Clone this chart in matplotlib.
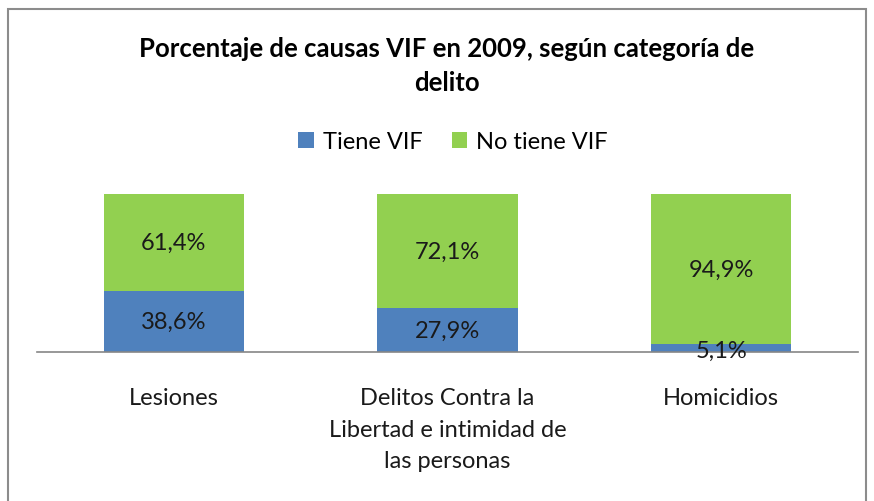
import matplotlib
matplotlib.use("Agg")
import matplotlib.pyplot as plt
from matplotlib.patches import Rectangle

categorias = ["Lesiones", "Delitos Contra la\nLibertad e intimidad de\nlas personas", "Homicidios"]
tiene_vif = [38.6, 27.9, 5.1]
no_tiene_vif = [61.4, 72.1, 94.9]
series = ["Tiene VIF", "No tiene VIF"]
COLORS = ["#4F81BD", "#92D050"]

plt.rcParams["font.family"] = ["Lato", "DejaVu Sans"]

W, H = 874, 502
fig = plt.figure(figsize=(W / 100, H / 100), dpi=100)
ax = fig.add_axes([37 / W, 1 - 353 / H, (858 - 37) / W, (353 - 195) / H])

x = list(range(len(categorias)))
bw = 0.512
b1 = ax.bar(x, tiene_vif, bw, color=COLORS[0], label=series[0])
b2 = ax.bar(x, no_tiene_vif, bw, bottom=tiene_vif, color=COLORS[1], label=series[1])

for xi, a, b in zip(x, tiene_vif, no_tiene_vif):
    ya = a / 2 if a > 10 else 1.0
    ax.text(xi, ya, f"{a:.1f}%".replace(".", ","), ha="center", va="center", fontsize=17, color="#1a1a1a")
    ax.text(xi, a + b / 2, f"{b:.1f}%".replace(".", ","), ha="center", va="center", fontsize=17, color="#1a1a1a")

ax.set_xlim(-0.5, 2.5)
ax.set_ylim(0, 100)
for s in ["top", "right", "left"]:
    ax.spines[s].set_visible(False)
ax.spines["bottom"].set_color("#868686")
ax.spines["bottom"].set_linewidth(1.2)
ax.set_yticks([])
ax.set_xticks(x)
ax.set_xticklabels(categorias, fontsize=17, color="#1a1a1a", linespacing=1.62)
ax.tick_params(axis="x", length=0, pad=25.5)

fig.text(447 / W, 1 - 66 / H, "Porcentaje de causas VIF en 2009, según categoría de\ndelito",
         ha="center", va="center", fontsize=18.5, fontweight="bold", linespacing=1.48)

fig.legend(handles=[b1, b2], loc="center", bbox_to_anchor=(453 / W, 1 - 143 / H), ncol=2,
           frameon=False, fontsize=17, handlelength=0.64, handleheight=0.64,
           handletextpad=0.38, columnspacing=1.25)

fig.patches.append(Rectangle((8 / W, -0.05), (866 - 8) / W, 1.05 - 9.5 / H, transform=fig.transFigure,
                             fill=False, edgecolor="#8c8c8c", linewidth=1.5))

fig.savefig("out.png", dpi=100)
